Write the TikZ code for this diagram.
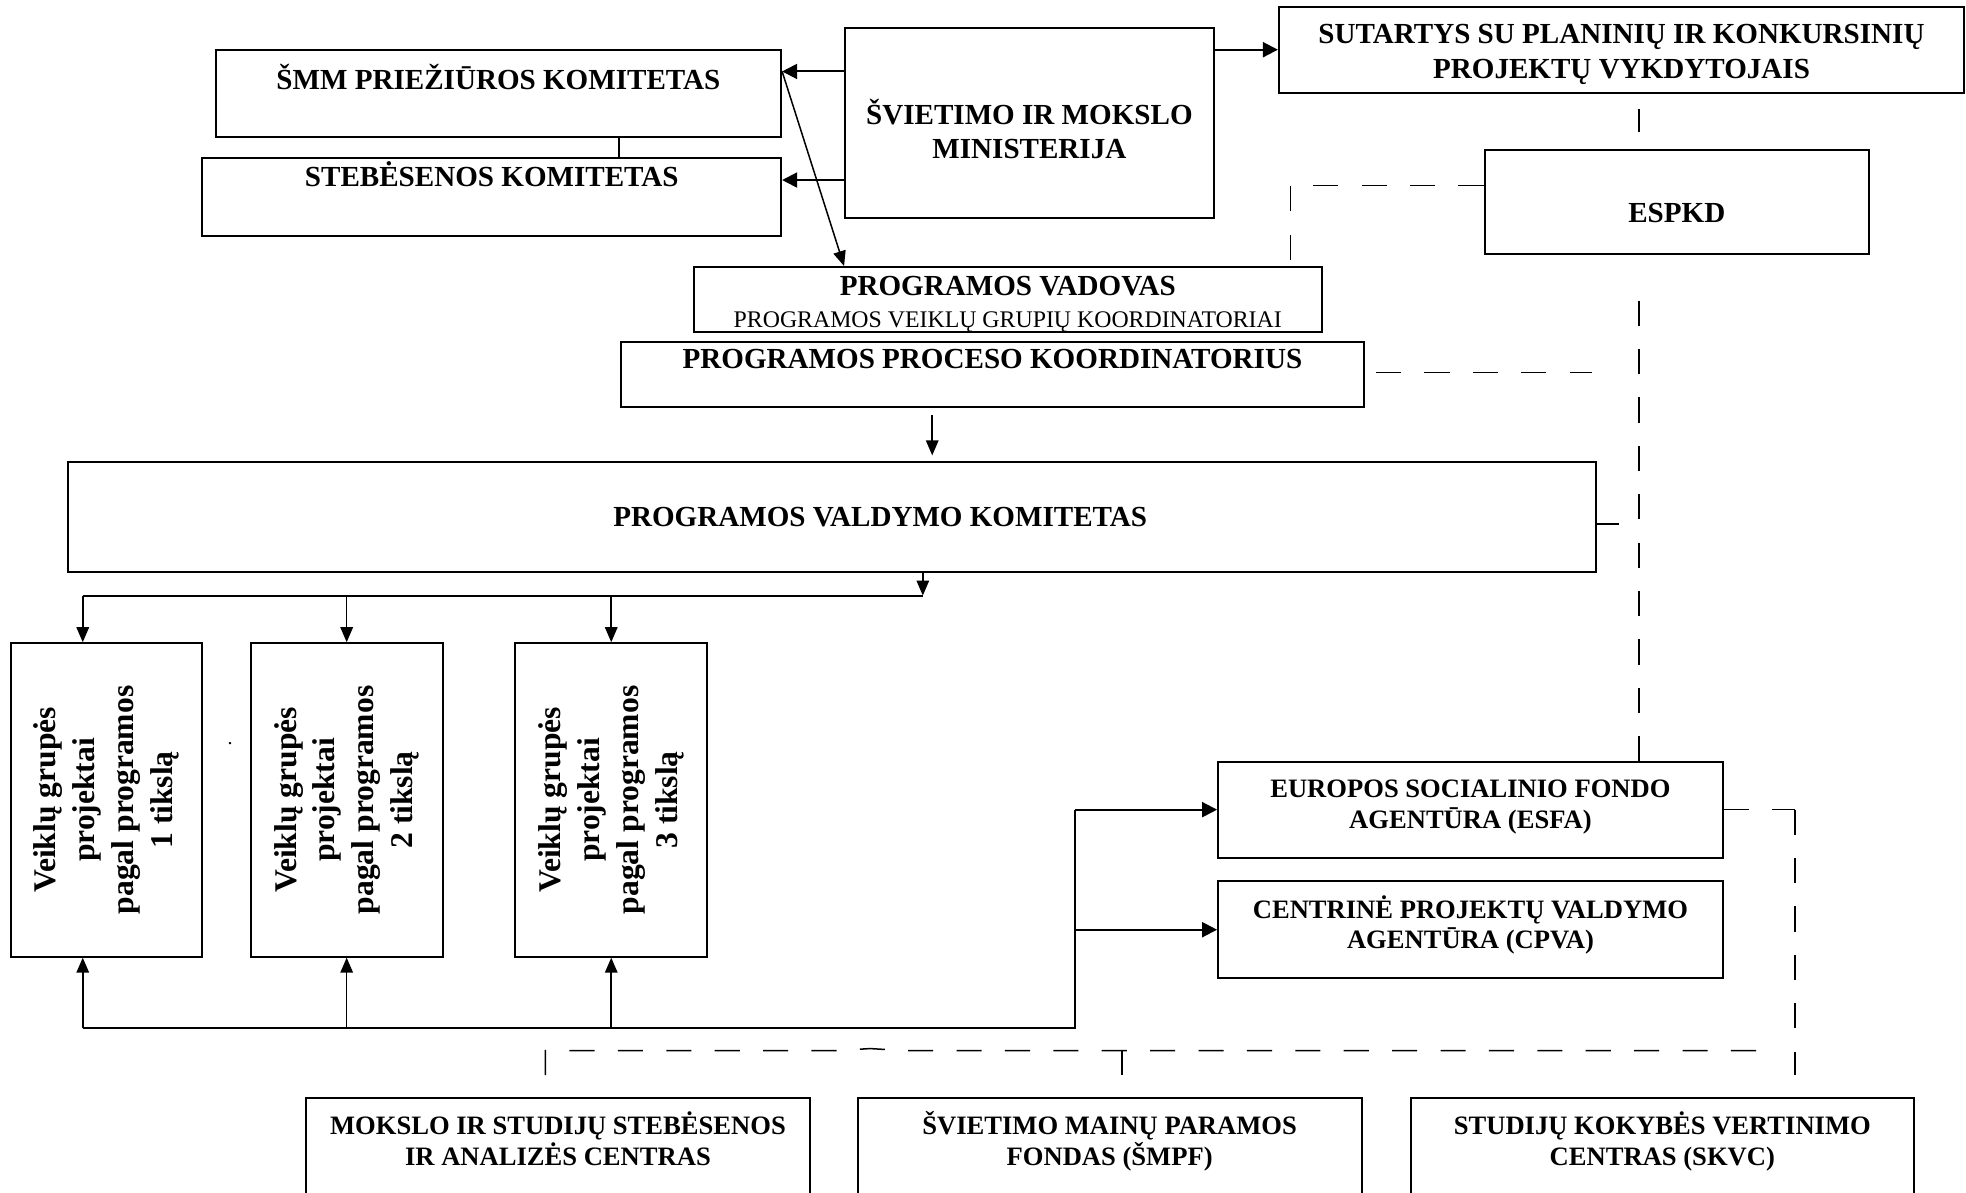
\documentclass[tikz,border=0pt]{standalone}
\usepackage{fontspec}
\setmainfont{Liberation Serif}
\usetikzlibrary{arrows.meta,fit,calc}
\begin{document}
\begin{tikzpicture}[x=0.5pt,y=-0.5pt,
  box/.style={draw,line width=0.8pt,inner sep=0pt,rectangle},
  lbl/.style={font=\fontsize{11.6}{13.7}\selectfont\bfseries,align=center,anchor=base,inner sep=0pt},
  lbls/.style={font=\fontsize{10.6}{12}\selectfont\bfseries,align=center,anchor=base,inner sep=0pt},
  rot/.style={rotate=90,align=center,font=\fontsize{12.6}{15.5}\selectfont\bfseries,inner sep=0pt},
  tarrow/.style={line width=0.8pt,-{Triangle[length=6pt,width=6pt]}},
  narrow/.style={line width=0.6pt,-{Triangle[length=6pt,width=5pt]}},
  conn/.style={line width=0.6pt},
  dsh/.style={line width=0.6pt,dash pattern=on 10pt off 9.3pt},
]
\useasboundingbox (0,0) rectangle (1568,950.7);
\clip (0,0) rectangle (1568,950.7);

% boxes and texts (multi-line texts are anchored at the baseline of their last line)
\node[box,fit={(172,40)(623,109)}] (smm) {};
\node[lbl] (smmT) at (397.5,71.2) {ŠMM PRIEŽIŪROS KOMITETAS};
\node[box,fit={(161.5,126)(623,188)}] (steb) {};
\node[lbl] (stebT) at (392.25,148.7) {STEBĖSENOS KOMITETAS};
\node[box,fit={(674,22.6)(968,174)}] (min) {};
\node[lbl,font=\fontsize{11.6}{13.3}\selectfont\bfseries] (minT) at (821,126.3) {ŠVIETIMO IR MOKSLO\\MINISTERIJA};
\node[box,fit={(1020,5.3)(1566.5,74)}] (sut) {};
\node[lbl,font=\fontsize{11.6}{14.1}\selectfont\bfseries] (sutT) at (1293.25,63) {SUTARTYS SU PLANINIŲ IR KONKURSINIŲ\\PROJEKTŲ VYKDYTOJAIS};
\node[box,fit={(1184,120)(1490.6,202.6)}] (espkd) {};
\node[lbl] (espkdT) at (1337.3,177.3) {ESPKD};
\node[box,fit={(553.5,213)(1054,264.6)}] (vad) {};
\node[lbl] (vadT) at (803.75,235.7) {PROGRAMOS VADOVAS};
\node[anchor=base,inner sep=0pt,font=\fontsize{9.5}{11}\selectfont] (vadS) at (803.75,261.3) {PROGRAMOS VEIKLŲ GRUPIŲ KOORDINATORIAI};
\node[box,fit={(495,272.5)(1088,325)}] (proc) {};
\node[lbl] (procT) at (791.5,294.2) {PROGRAMOS PROCESO KOORDINATORIUS};
\node[box,fit={(54,368.6)(1272.5,456)}] (valdymo) {};
\node[lbl] (valdT) at (702,419.7) {PROGRAMOS VALDYMO KOMITETAS};

\node[box,fit={(8.5,513)(161.5,763)}] (v1) {};
\node[rot] (v1T) at (v1.center) {Veiklų grupės\\projektai\\pagal programos\\1 tikslą};
\node[box,fit={(200,513)(353,763)}] (v2) {};
\node[rot] (v2T) at (v2.center) {Veiklų grupės\\projektai\\pagal programos\\2 tikslą};
\node[box,fit={(411,513)(564,763)}] (v3) {};
\node[rot] (v3T) at (v3.center) {Veiklų grupės\\projektai\\pagal programos\\3 tikslą};
\node[inner sep=0pt,font=\fontsize{8}{8}\selectfont] (dot) at (183.5,592.7) {.};

\node[box,fit={(971.5,607.5)(1374,684)}] (esfa) {};
\node[lbls] (esfaT) at (1172.75,660.4) {EUROPOS SOCIALINIO FONDO\\AGENTŪRA (ESFA)};
\node[box,fit={(971.5,703)(1374,780)}] (cpva) {};
\node[lbls] (cpvaT) at (1172.75,756.4) {CENTRINĖ PROJEKTŲ VALDYMO\\AGENTŪRA (CPVA)};

\node[box,fit={(244,876)(646,985)}] (mA) {};
\node[lbls] (mAT) at (445,929.2) {MOKSLO IR STUDIJŲ STEBĖSENOS\\IR ANALIZĖS CENTRAS};
\node[box,fit={(684,876)(1086,985)}] (mB) {};
\node[lbls] (mBT) at (885,929.2) {ŠVIETIMO MAINŲ PARAMOS\\FONDAS (ŠMPF)};
\node[box,fit={(1125,876)(1526.6,985)}] (mC) {};
\node[lbls] (mCT) at (1325.8,929.2) {STUDIJŲ KOKYBĖS VERTINIMO\\CENTRAS (SKVC)};

% helper coordinates
\coordinate (a1) at (0,57);
\coordinate (a2) at (0,143.6);
\coordinate (a3) at (493.5,0);
\coordinate (a4) at (743.5,0);
\coordinate (bus) at (736,475);
\coordinate (bA) at (66,0);
\coordinate (lbus) at (857,820);
\coordinate (vx) at (1307,0);
\coordinate (d1) at (1029.4,148);
\coordinate (d2) at (1269.5,297);
\coordinate (d3) at (1291.5,418);
\coordinate (dR) at (1431.6,857.4);
\coordinate (bL) at (435,857.4);
\coordinate (bL2) at (435,838);
\coordinate (k1) at (666,838);
\coordinate (k2) at (694,836.3);
\coordinate (k3) at (722,838);
\coordinate (bEnd) at (1413,838);
\coordinate (bM) at (895,857.4);
\coordinate (bM2) at (895,838);

% solid connectors
\draw[tarrow] (min.east |- sut.west) -- (sut.west);
\draw[tarrow] (min.west |- a1) -- (smm.east |- a1);
\draw[tarrow] (min.west |- a2) -- (steb.east |- a2);
\draw[narrow] (smm.east |- a1) -- (vad.north -| min.west);
\draw[conn] (smm.south -| a3) -- (steb.north -| a3);
\draw[narrow,shorten <=2.5pt,shorten >=2.3pt] (proc.south -| a4) -- (valdymo.north -| a4);
\draw[narrow] (valdymo.south -| bus) -- (bus);
\draw[conn,line width=0.8pt] (bus) -- (bus -| bA);
\draw[narrow] (bus -| bA) -- (v1.north -| bA);
\draw[narrow] (bus -| v2.north) -- (v2.north);
\draw[narrow] (bus -| v3.north) -- (v3.north);
\draw[conn,line width=0.8pt] (lbus -| bA) -- (lbus) -- (lbus |- esfa.west);
\draw[narrow] (lbus -| bA) -- (v1.south -| bA);
\draw[narrow] (lbus -| v2.south) -- (v2.south);
\draw[narrow] (lbus -| v3.south) -- (v3.south);
\draw[tarrow] (lbus |- esfa.west) -- (esfa.west);
\draw[tarrow] (lbus |- cpva.west) -- (cpva.west);

% dashed connectors
\draw[dsh,shorten <=6pt,shorten >=7pt] (vx |- sut.south) -- (vx |- espkd.north);
\draw[dsh,shorten <=18.2pt] (vx |- espkd.south) -- (vx |- esfa.north);
\draw[dsh] (espkd.west |- d1) -- (d1) -- (vad.north -| d1);
\draw[dsh,shorten <=4.35pt] (proc.east |- d2) -- (d2);
\draw[dsh] (valdymo.east |- d3) -- (d3);
\draw[dsh] (esfa.east) -- (esfa.east -| dR);
\draw[dsh] (esfa.east -| dR) -- (dR);
\draw[dsh] (bL) -- (bL2) -- (k1) -- (k2) -- (k3) -- (bEnd);
\draw[dsh] (bM2) -- (bM);
\end{tikzpicture}
\end{document}
